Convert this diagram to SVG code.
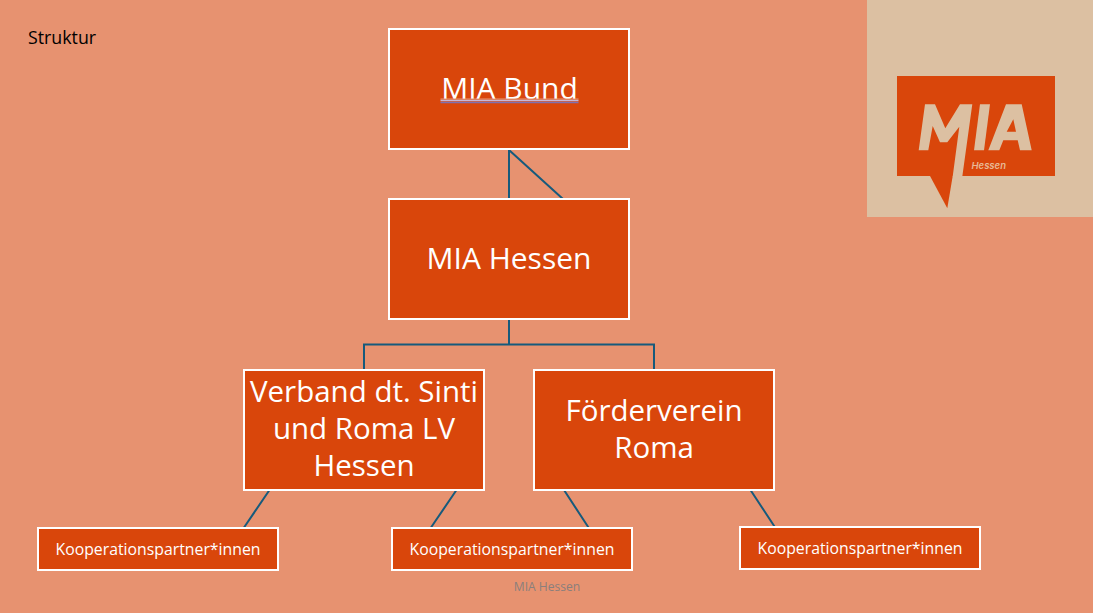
<svg xmlns="http://www.w3.org/2000/svg" width="1093" height="613" viewBox="0 0 1093 613">
<style>
.box{fill:#d9460b;stroke:#fff;stroke-width:2}
.t{font-family:"Open Sans","Noto Sans",sans-serif;fill:#fff;text-anchor:middle}
.big{font-size:30px}
.mid{font-size:29.500px}
.small{font-size:15.800px}
.c{fill:none;stroke:#165a7c;stroke-width:2}
</style>
<rect width="1093" height="613" fill="#e79270"/>
<rect x="867" y="0" width="226" height="217" fill="#dcc0a2"/>
<g id="logo">
<rect x="897" y="76" width="158" height="100" fill="#d9460b"/>
<path d="M930 176L947.300 208.300L952.700 176Z" fill="#d9460b"/>
<path d="M925 104.300H935L945.300 128.300L960 104.300H972.300L962.300 176.500H952.700L959.300 126.700L947.300 142.300H940L932.700 126L928.300 150.300H918.700Z" fill="#dcc0a2"/>
<path d="M980 104.300H990L984 150.300H974Z" fill="#dcc0a2"/>
<path fill-rule="evenodd" d="M1006 104.300H1021.700L1031.700 150.300H1020L1017.700 140.300H1003.300L999.300 150.300H988.300ZM1013.300 119.300L1006.700 131.700H1016Z" fill="#dcc0a2"/>
<text x="971.500" y="168.500" font-family="Inter,'Noto Sans',sans-serif" font-style="italic" font-weight="600" font-size="9.500" fill="#e8b896">Hessen</text>
</g>
<g id="connectors">
<path class="c" d="M509 150V199M509 150L563 199"/>
<path class="c" d="M509 319V344.500M364 370V344.500H654V370"/>
<path class="c" d="M269.500 490L244 527.500M456.500 490L431 527.500M564 490L588.500 527.500M750.500 490L774.500 526.500"/>
</g>
<text x="28" y="44" font-family="'Open Sans','Noto Sans',sans-serif" font-size="17.800" fill="#000">Struktur</text>
<g id="mia-bund">
<rect class="box" x="389" y="29" width="240" height="120"/>
<text class="t big" x="509.500" y="99">MIA Bund</text>
<path d="M440.500 99H578.500" stroke="#e89a78" stroke-width="1"/>
<path d="M440.500 100.500H578.500" stroke="#c8b8d8" stroke-width="1.500"/>
<path d="M440.500 102.500H578.500" stroke="#8070b0" stroke-width="1.500"/>
</g>
<g id="mia-hessen">
<rect class="box" x="389" y="199" width="240" height="120"/>
<text class="t big" x="509" y="269">MIA Hessen</text>
</g>
<g id="verband">
<rect class="box" x="244" y="370" width="240" height="120"/>
<text class="t mid" x="364" y="402">Verband dt. Sinti</text>
<text class="t mid" x="364" y="439">und Roma LV</text>
<text class="t mid" x="364" y="476">Hessen</text>
</g>
<g id="foerderverein">
<rect class="box" x="534" y="370" width="240" height="120"/>
<text class="t mid" x="654" y="421">Förderverein</text>
<text class="t mid" x="654" y="458">Roma</text>
</g>
<g id="partner-1">
<rect class="box" x="38" y="528" width="240" height="42"/>
<text class="t small" x="158" y="555">Kooperationspartner*innen</text>
</g>
<g id="partner-2">
<rect class="box" x="392" y="528" width="240" height="42"/>
<text class="t small" x="512" y="555">Kooperationspartner*innen</text>
</g>
<g id="partner-3">
<rect class="box" x="740" y="527" width="240" height="42"/>
<text class="t small" x="860" y="554">Kooperationspartner*innen</text>
</g>
<text x="547" y="591" font-family="'Open Sans','Noto Sans',sans-serif" font-size="12.100" fill="#8a7f7c" text-anchor="middle">MIA Hessen</text>
</svg>
